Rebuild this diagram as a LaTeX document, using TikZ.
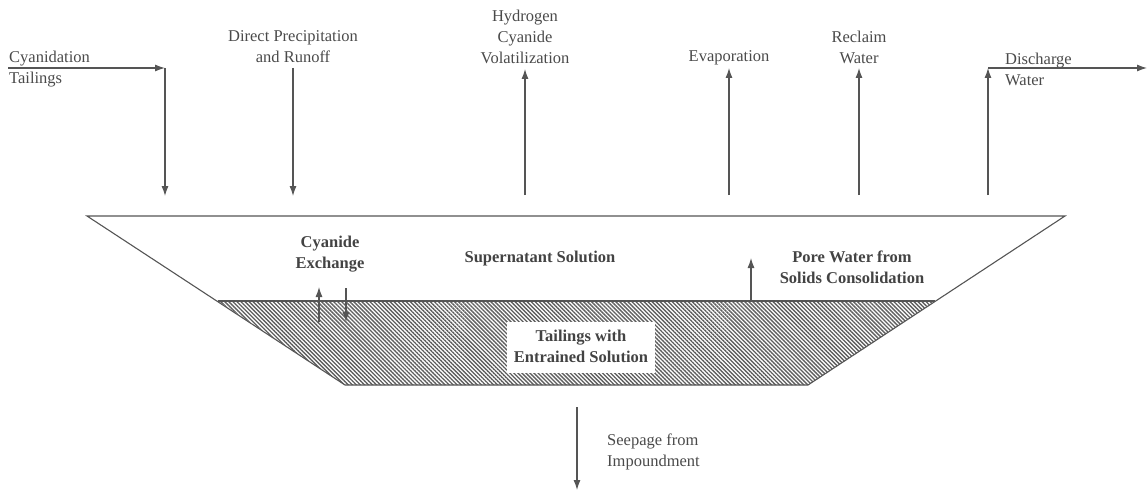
\documentclass[tikz,border=0pt]{standalone}
\usepackage{fontspec}
\setmainfont{Liberation Serif}
\usetikzlibrary{arrows.meta,patterns.meta}
\definecolor{ink}{HTML}{4A4A4A}
\definecolor{lineink}{HTML}{555555}
\definecolor{hatchink}{HTML}{5E5E5E}
\tikzset{
  lbl/.style={inner sep=0pt, text=ink, font=\fontsize{16.5}{21}\selectfont, align=center},
  blbl/.style={lbl, font=\fontsize{16.5}{21}\selectfont\bfseries, text=ink!90!black},
  flow/.style={draw=lineink, line width=1.1pt, -{Latex[length=10pt,width=7pt]}},
  outline/.style={draw=lineink, line width=1.1pt, line join=miter},
}
\begin{document}
\begin{tikzpicture}[x=1pt,y=-1pt]
\useasboundingbox (0,0) rectangle (1148,492);
% pond geometry
\coordinate (pTL) at (87,216);
\coordinate (pTR) at (1065,216);
\coordinate (tL) at (218,301);
\coordinate (tR) at (935,301);
\coordinate (bR) at (808,385);
\coordinate (bL) at (345,385);
% hatched tailings
\fill[pattern={Lines[angle=-45,distance=2.85pt,line width=1.35pt]}, pattern color=hatchink]
  (tL) -- (tR) -- (bR) -- (bL) -- cycle;
\draw[outline] (tL) -- (tR);
\draw[outline] (pTL) -- (pTR) -- (bR) -- (bL) -- cycle;
% white label box in tailings
\node[fill=white, minimum width=148pt, minimum height=51pt, inner sep=0pt] (tbox) at (581,347.5) {};
\node[blbl] (tail) at (581,346) {Tailings with\\Entrained Solution};
% inner labels
\node[blbl] (super) at (540,259) {Supernatant Solution};
\node[blbl] (cyex) at (330,254) {Cyanide\\Exchange};
\node[blbl] (pore) at (852,267) {Pore Water from\\Solids Consolidation};
% exchange arrows
\coordinate (exUa) at (319,322); \coordinate (exUb) at (319,287);
\coordinate (exDa) at (346,288); \coordinate (exDb) at (346,322);
\draw[flow] (exUa) -- (exUb);
\draw[flow] (exDa) -- (exDb);
\coordinate (poA) at (751,301); \coordinate (poB) at (751,258);
\draw[flow] (poA) -- (poB);
% top labels
\node[lbl, align=left, anchor=west] (cyan) at (9,69.5) {Cyanidation\\Tailings};
\node[lbl] (dpr) at (293,47) {Direct Precipitation\\and Runoff};
\node[lbl] (hcn) at (525,37) {Hydrogen\\Cyanide\\Volatilization};
\node[lbl] (evap) at (729,58) {Evaporation};
\node[lbl] (recl) at (859,47) {Reclaim\\Water};
\node[lbl, align=left, anchor=west] (disc) at (1005,69.5) {Discharge\\Water};
% top flows
\coordinate (cyS) at (8,68); \coordinate (cyC) at (165,68); \coordinate (cyE) at (165,196);
\draw[flow] (cyS) -- (cyC);
\draw[flow] (cyC) -- (cyE);
\coordinate (dpS) at (293,68); \coordinate (dpE) at (293,196);
\draw[flow] (dpS) -- (dpE);
\coordinate (hcS) at (525,195); \coordinate (hcE) at (525,69);
\draw[flow] (hcS) -- (hcE);
\coordinate (evS) at (729,195); \coordinate (evE) at (729,68);
\draw[flow] (evS) -- (evE);
\coordinate (rcS) at (859,195); \coordinate (rcE) at (859,68);
\draw[flow] (rcS) -- (rcE);
\coordinate (dsS) at (988,195); \coordinate (dsC) at (988,68); \coordinate (dsE) at (1147,68);
\draw[flow] (dsS) -- (dsC);
\draw[flow] (dsC) -- (dsE);
% seepage
\node[lbl, align=left, anchor=west] (seep) at (607,452) {Seepage from\\Impoundment};
\coordinate (spS) at (577,407); \coordinate (spE) at (577,490);
\draw[flow] (spS) -- (spE);
\end{tikzpicture}
\end{document}
